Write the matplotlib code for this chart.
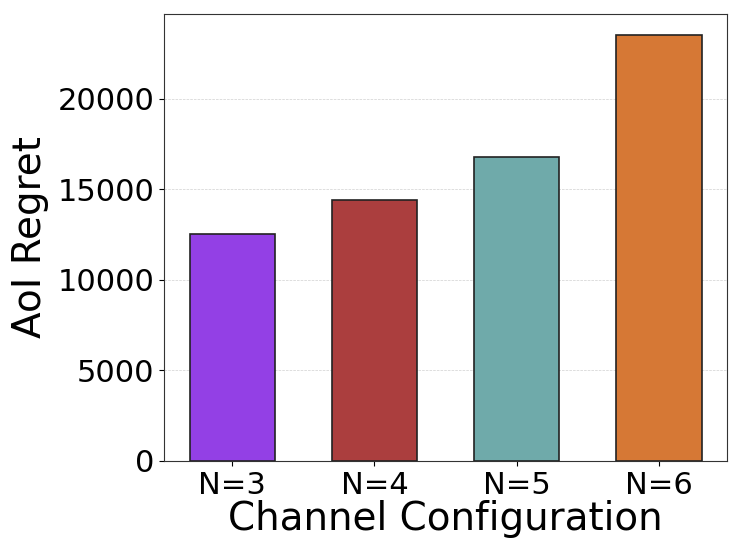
import numpy as np
import matplotlib
matplotlib.use("Agg")
import matplotlib.pyplot as plt

configs = ["N=3", "N=4", "N=5", "N=6"]
regret = [12500, 14400, 16800, 23500]
colors = ["#9340e5", "#ab3e3e", "#6faaaa", "#d67835"]


def main():
    fig, ax = plt.subplots(figsize=(7.42, 5.56), dpi=100)
    fig.subplots_adjust(left=0.221, right=0.980, top=0.975, bottom=0.171)

    x = np.arange(len(configs))
    ax.bar(x, regret, width=0.6, color=colors, edgecolor="#222222", linewidth=1.2, zorder=3)

    ax.set_xticks(x)
    ax.set_xticklabels(configs)
    ax.tick_params(axis="both", labelsize=22)
    ax.set_xlabel("Channel Configuration", fontsize=28, labelpad=0)
    ax.set_ylabel("AoI Regret", fontsize=28, labelpad=6)
    ax.grid(axis="y", linestyle="--", linewidth=0.5, color="#d0d0d0", zorder=0)
    for s in ax.spines.values():
        s.set_color("#333333")

    fig.savefig("out.png", dpi=100)
    plt.close(fig)


if __name__ == "__main__":
    main()
